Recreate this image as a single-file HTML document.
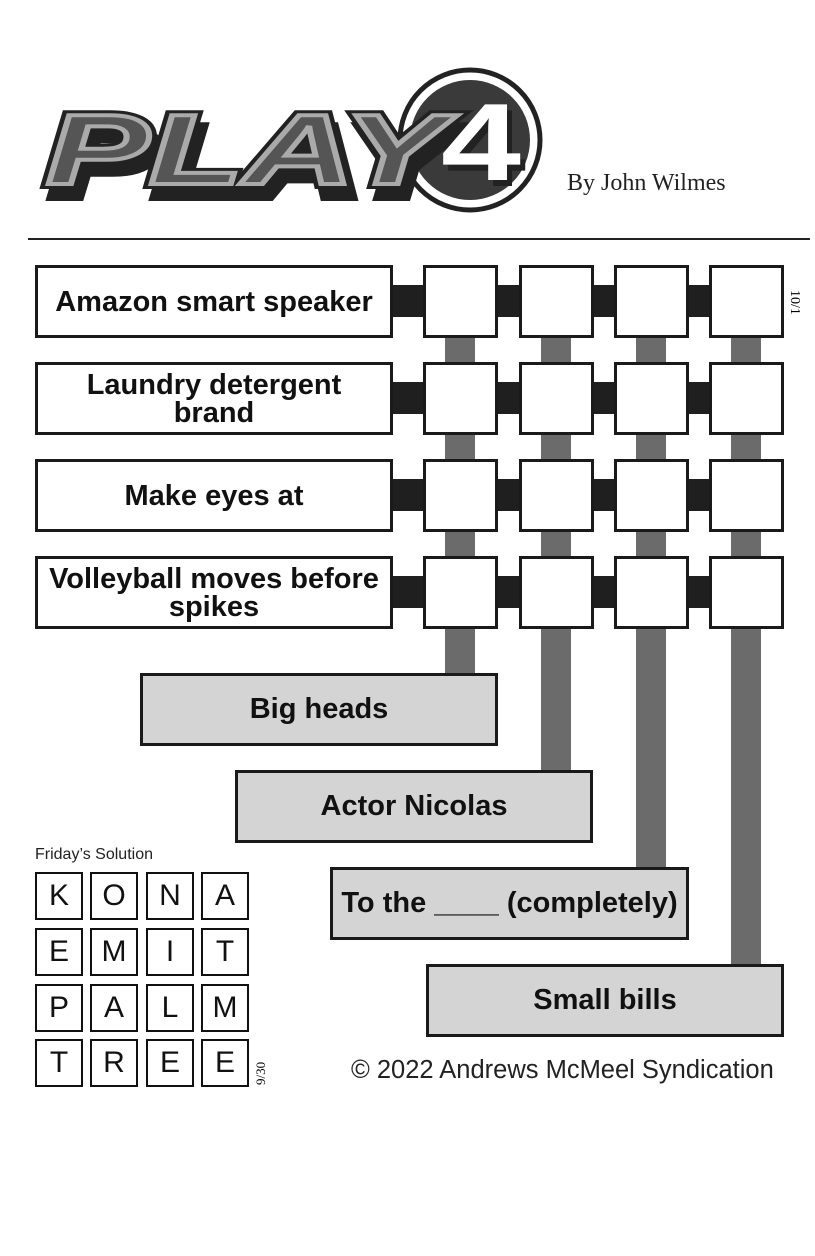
<!DOCTYPE html>
<html><head><meta charset="utf-8"><style>
body{margin:0;background:#fff;width:815px;height:1256px;position:relative;overflow:hidden;font-family:"Liberation Sans",sans-serif}
.a{position:absolute;box-sizing:border-box}
.clue{border:3px solid #1a1a1a;background:#fff;display:flex;align-items:center;justify-content:center;text-align:center;font-weight:bold;font-size:29px;line-height:28px;color:#111}
.sq{border:3px solid #1a1a1a;background:#fff}
.blk{background:#1f1f1f}
.bar{background:#6b6b6b}
.ans{border:3px solid #1a1a1a;background:#d4d4d4;display:flex;align-items:center;justify-content:center;font-weight:bold;font-size:29px;color:#111}
.sol{border:2px solid #111;width:48px;height:48px;display:flex;align-items:center;justify-content:center;font-size:30px;color:#111}
</style></head><body>
<svg class="a" style="left:30px;top:60px" width="540" height="170" viewBox="0 0 540 170">
<circle cx="440" cy="80" r="70" fill="#fff" stroke="#222" stroke-width="5"/>
<circle cx="440" cy="80" r="60" fill="#3a3a3a"/>
<g font-family="Liberation Sans,sans-serif" font-weight="bold" font-style="italic" font-size="100">
<text x="22" y="136" fill="#222" stroke="#222" stroke-width="10" textLength="400" lengthAdjust="spacingAndGlyphs">PLAY</text>
<text x="16" y="124" fill="#555" stroke="#222" stroke-width="10" textLength="400" lengthAdjust="spacingAndGlyphs">PLAY</text>
<text x="16" y="124" fill="#555" stroke="#aaa" stroke-width="4" textLength="400" lengthAdjust="spacingAndGlyphs">PLAY</text>
</g>
<text x="416" y="126" font-family="Liberation Sans,sans-serif" font-weight="bold" font-size="110" fill="#222" textLength="80" lengthAdjust="spacingAndGlyphs">4</text>
<text x="411" y="120" font-family="Liberation Sans,sans-serif" font-weight="bold" font-size="110" fill="#fff" textLength="80" lengthAdjust="spacingAndGlyphs">4</text>
</svg>
<div class="a" style="left:567px;top:170px;font-family:'Liberation Serif',serif;font-size:24px;color:#222">By John Wilmes</div>
<div class="a" style="left:28px;top:238px;width:782px;height:2px;background:#222"></div>

<div class="a bar" style="left:445px;top:330px;width:30px;height:345px"></div>
<div class="a bar" style="left:541px;top:330px;width:30px;height:442px"></div>
<div class="a bar" style="left:636px;top:330px;width:30px;height:539px"></div>
<div class="a bar" style="left:731px;top:330px;width:30px;height:636px"></div>

<div id="rows"></div>
<script>
var labels=["Amazon smart speaker","Laundry detergent<br>brand","Make eyes at","Volleyball moves before<br>spikes"];
var xs=[423,519,614,709],h="";
for(var r=0;r<4;r++){var y=265+97*r;
h+='<div class="a blk" style="left:390px;top:'+(y+20)+'px;width:390px;height:32px"></div>';
h+='<div class="a clue" style="left:35px;top:'+y+'px;width:358px;height:73px">'+labels[r]+'</div>';
for(var c=0;c<4;c++)h+='<div class="a sq" style="left:'+xs[c]+'px;top:'+y+'px;width:75px;height:73px"></div>';}
document.getElementById('rows').innerHTML=h;
</script>
<div class="a" style="top:290px;font-family:'Liberation Serif',serif;font-size:14px;transform:rotate(90deg);transform-origin:left top;left:802px">10/1</div>

<div class="a ans" style="left:140px;top:673px;width:358px;height:73px">Big heads</div>
<div class="a ans" style="left:235px;top:770px;width:358px;height:73px">Actor Nicolas</div>
<div class="a ans" style="left:330px;top:867px;width:359px;height:73px">To the ____ (completely)</div>
<div class="a ans" style="left:426px;top:964px;width:358px;height:73px">Small bills</div>

<div class="a" style="left:35px;top:846px;font-size:16px;color:#222">Friday’s Solution</div>
<div id="sol"></div>
<script>
var L=["KONA","EMIT","PALM","TREE"],sx=[35,90,146,201],sy=[872,928,984,1039],s="";
for(var i=0;i<4;i++)for(var j=0;j<4;j++)s+='<div class="a sol" style="left:'+sx[j]+'px;top:'+sy[i]+'px">'+L[i][j]+'</div>';
document.getElementById('sol').innerHTML=s;
</script>
<div class="a" style="left:253px;top:1085px;font-family:'Liberation Serif',serif;font-size:13px;transform:rotate(-90deg);transform-origin:left top">9/30</div>
<div class="a" style="left:351px;top:1056px;font-size:25.5px;color:#222">© 2022 Andrews McMeel Syndication</div>
</body></html>
